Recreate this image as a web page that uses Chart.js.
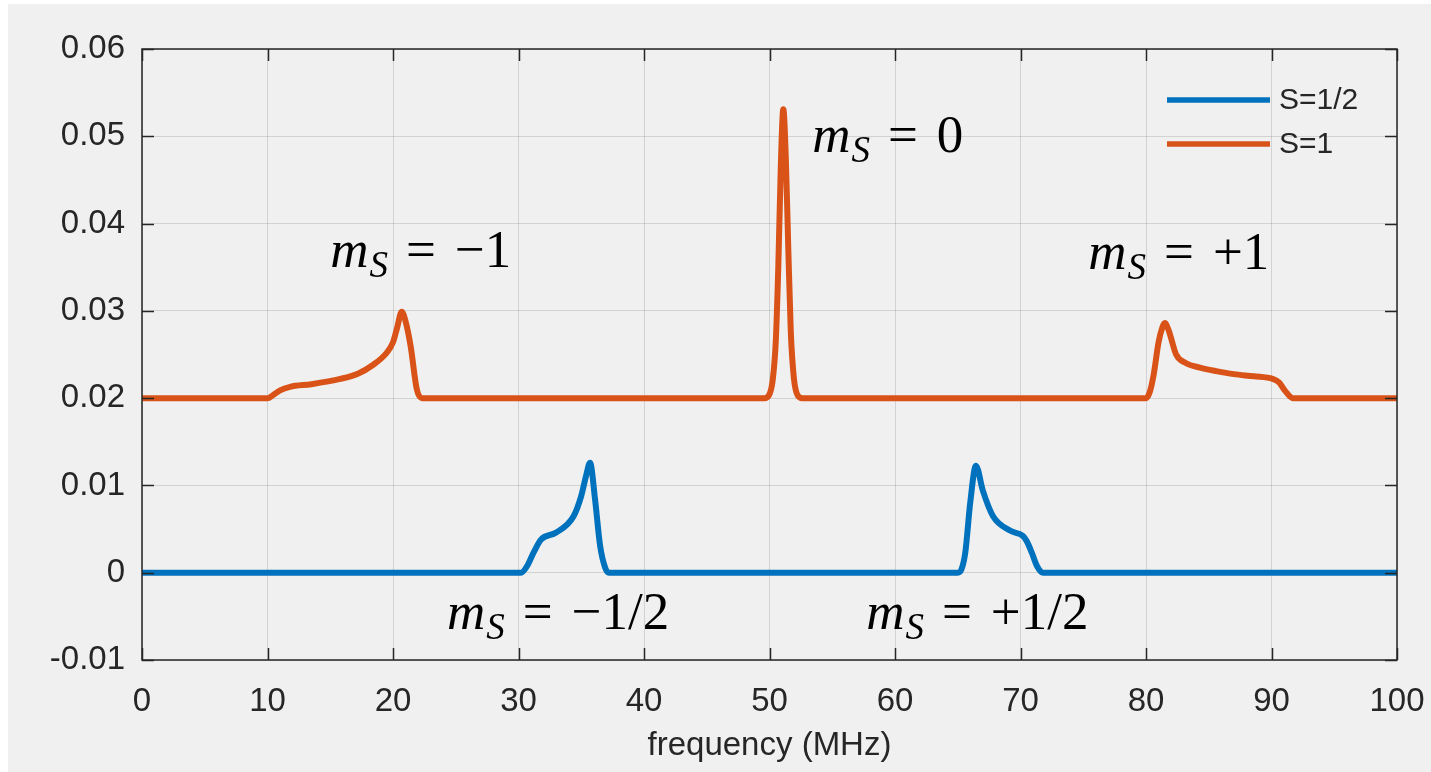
<!DOCTYPE html>
<html>
<head>
<meta charset="utf-8">
<script src="https://cdn.jsdelivr.net/npm/chart.js@4/dist/chart.umd.min.js"></script>
<style>
  body { margin: 0; background: #ffffff; }
  #plot { position: absolute; left: 8px; top: 4px; background: #f0f0f0; }
</style>
</head>
<body>
<canvas id="plot" width="1423" height="768"></canvas>
<script>
// S=1 trace (orange)
const freqS1 = [0, 10.0, 10.4, 11.0, 11.8, 13.5, 15.8, 17.2, 18.4, 19.5, 20.0, 20.3, 20.7, 21.0, 21.4, 21.9, 22.3,
  49.6, 49.95, 50.25, 50.5, 50.7, 50.9, 51.1, 51.3, 51.5, 51.7, 51.95, 52.25, 52.6,
  80.0, 80.3, 80.6, 81.0, 81.3, 81.5, 81.8, 82.4, 83.2, 84.3, 85.6, 87.0, 88.6, 90.1, 90.6, 91.1, 91.7, 100];
const valS1 = [0.02, 0.02, 0.0203, 0.0209, 0.0213, 0.0216, 0.0222, 0.0228, 0.0238, 0.0252, 0.0264, 0.0279, 0.0299, 0.0288, 0.0260, 0.0210, 0.02,
  0.02, 0.0203, 0.0220, 0.0265, 0.0350, 0.0465, 0.0531, 0.0475, 0.0370, 0.0275, 0.0222, 0.0203, 0.02,
  0.02, 0.0207, 0.0226, 0.0264, 0.0281, 0.0286, 0.0278, 0.0250, 0.0240, 0.0235, 0.0231, 0.02275, 0.0225, 0.0222, 0.0218, 0.0208, 0.02, 0.02];

// S=1/2 trace (blue)
const freqS12 = [0, 30.2, 30.7, 31.2, 31.8, 33.0, 34.4, 35.0, 35.4, 35.7, 36.1, 36.5, 36.9, 37.2,
  65.0, 65.3, 65.6, 66.0, 66.45, 67.0, 67.8, 69.2, 70.2, 70.5, 70.9, 71.3, 71.8, 100];
const valS12 = [0, 0, 0.0008, 0.0023, 0.0038, 0.0046, 0.0065, 0.0088, 0.0112, 0.0126, 0.0084, 0.0031, 0.0006, 0,
  0, 0.0004, 0.0023, 0.0081, 0.01225, 0.0094, 0.0065, 0.0048, 0.0042, 0.0036, 0.0023, 0.0008, 0, 0];

const seriesNames = ['S=1/2', 'S=1'];
const seriesColors = ['#0072bd', '#d95319'];

const xTicks = [0, 10, 20, 30, 40, 50, 60, 70, 80, 90, 100];
const yTickLabels = ['-0.01', '0', '0.01', '0.02', '0.03', '0.04', '0.05', '0.06'];

// peak annotations: position (frequency, value) and the part after m_S
const noteFreq = [53.4, 15.0, 75.4, 24.3, 57.7];
const noteVal = [0.0482, 0.0350, 0.0348, -0.0065, -0.0065];
const noteTail = ['0', '\u22121', '+1', '\u22121/2', '+1/2'];

const axisColor = '#262626';
const sansFont = '"Liberation Sans", Arial, Helvetica, sans-serif';
const serifFont = '"Liberation Serif", "DejaVu Serif", serif';

function toPoints(xs, ys) {
  return xs.map((x, i) => ({ x: x, y: ys[i] }));
}

const matlabDecor = {
  id: 'matlabDecor',
  afterDatasetsDraw(chart) {
    const ctx = chart.ctx;
    const a = chart.chartArea;
    const xs = chart.scales.x;
    const ys = chart.scales.y;
    ctx.save();
    // box + inward ticks
    ctx.strokeStyle = axisColor;
    ctx.lineWidth = 1.5;
    ctx.strokeRect(a.left, a.top, a.right - a.left, a.bottom - a.top);
    ctx.beginPath();
    xTicks.forEach(t => {
      const px = Math.round(xs.getPixelForValue(t)) + 0.5;
      ctx.moveTo(px, a.bottom); ctx.lineTo(px, a.bottom - 12);
      ctx.moveTo(px, a.top); ctx.lineTo(px, a.top + 12);
    });
    yTickLabels.forEach(l => {
      const py = Math.round(ys.getPixelForValue(parseFloat(l))) + 0.5;
      ctx.moveTo(a.left, py); ctx.lineTo(a.left + 12, py);
      ctx.moveTo(a.right, py); ctx.lineTo(a.right - 12, py);
    });
    ctx.stroke();

    // legend
    seriesNames.forEach((name, i) => {
      const y = a.top + 51 + i * 44;
      ctx.strokeStyle = seriesColors[i];
      ctx.lineWidth = 5.5;
      ctx.beginPath();
      ctx.moveTo(a.right - 230, y);
      ctx.lineTo(a.right - 127, y);
      ctx.stroke();
      ctx.fillStyle = axisColor;
      ctx.font = '30px ' + sansFont;
      ctx.textBaseline = 'middle';
      ctx.textAlign = 'left';
      ctx.fillText(name, a.right - 118, y + 1);
    });

    // m_S annotations
    ctx.fillStyle = '#000000';
    ctx.textBaseline = 'alphabetic';
    noteFreq.forEach((f, i) => {
      let x = xs.getPixelForValue(f);
      const y = ys.getPixelForValue(noteVal[i]);
      ctx.font = 'italic 53px ' + serifFont;
      ctx.fillText('m', x, y);
      x += ctx.measureText('m').width + 1;
      ctx.font = 'italic 37px ' + serifFont;
      ctx.fillText('S', x, y + 10);
      x += ctx.measureText('S').width + 18;
      ctx.font = '53px ' + serifFont;
      ctx.fillText('=', x, y);
      x += ctx.measureText('=').width + 19;
      ctx.fillText(noteTail[i], x, y);
    });
    ctx.restore();
  }
};

const ctxPlot = document.querySelector('#plot');

const spectrumChart = new Chart(ctxPlot, {
  type: 'line',
  data: {
    datasets: [
      {
        label: seriesNames[0],
        data: toPoints(freqS12, valS12),
        borderColor: seriesColors[0],
        borderWidth: 6,
        pointRadius: 0,
        cubicInterpolationMode: 'monotone',
        fill: false
      },
      {
        label: seriesNames[1],
        data: toPoints(freqS1, valS1),
        borderColor: seriesColors[1],
        borderWidth: 6,
        pointRadius: 0,
        cubicInterpolationMode: 'monotone',
        fill: false
      }
    ]
  },
  options: {
    responsive: false,
    animation: false,
    layout: { padding: { left: 0, top: 45, right: 34, bottom: 0 } },
    plugins: {
      legend: { display: false },
      tooltip: { enabled: false }
    },
    scales: {
      x: {
        type: 'linear',
        min: 0,
        max: 100,
        afterFit: s => { s.height = 112; s.paddingLeft = 0; s.paddingRight = 0; },
        afterBuildTicks: s => { s.ticks = xTicks.map(v => ({ value: v })); },
        ticks: {
          color: axisColor,
          font: { size: 33, family: sansFont },
          padding: 22,
          maxRotation: 0
        },
        grid: { color: 'rgba(38,38,38,0.15)', lineWidth: 1, drawTicks: false },
        border: { display: false },
        title: {
          display: true,
          text: 'frequency (MHz)',
          color: axisColor,
          font: { size: 33, family: sansFont },
          padding: { top: 0, bottom: 6 }
        }
      },
      y: {
        type: 'linear',
        min: -0.01,
        max: 0.06,
        afterFit: s => { s.width = 134; s.paddingTop = 0; s.paddingBottom = 0; },
        afterBuildTicks: s => { s.ticks = yTickLabels.map(l => ({ value: parseFloat(l) })); },
        ticks: {
          color: axisColor,
          font: { size: 33, family: sansFont },
          padding: 17,
          callback: (v, i) => yTickLabels[i]
        },
        grid: { color: 'rgba(38,38,38,0.15)', lineWidth: 1, drawTicks: false },
        border: { display: false }
      }
    }
  },
  plugins: [matlabDecor]
});
</script>
</body>
</html>
